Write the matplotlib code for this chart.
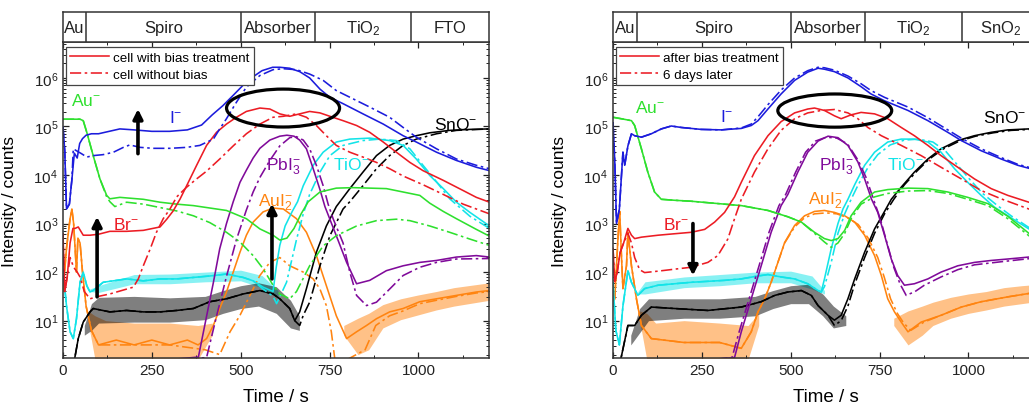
import numpy as np
import matplotlib
matplotlib.use("Agg")
import matplotlib.pyplot as plt
from matplotlib.patches import Ellipse
from matplotlib.lines import Line2D
from matplotlib.ticker import FixedLocator, MultipleLocator, NullFormatter, LogFormatterSciNotation

plt.rcParams['font.family'] = ['Liberation Sans', 'DejaVu Sans']
plt.rcParams['mathtext.fontset'] = 'custom'
plt.rcParams['mathtext.rm'] = 'Liberation Sans'
plt.rcParams['mathtext.it'] = 'Liberation Sans:italic'
plt.rcParams['mathtext.bf'] = 'Liberation Sans:bold'

# ---------------- layer headers ----------------
layers_left = ["Au", "Spiro", "Absorber", r"TiO$_2$", "FTO"]
bounds_left = [0, 65, 500, 710, 980, 1200]
layers_right = ["Au", "Spiro", "Absorber", r"TiO$_2$", r"SnO$_2$"]
bounds_right = [0, 67, 500, 710, 983, 1200]

legend_left = ["cell with bias treatment", "cell without bias"]
legend_right = ["after bias treatment", "6 days later"]

y_major = [1e1, 1e2, 1e3, 1e4, 1e5, 1e6]

# ---------------- LEFT PANEL DATA (time s, log10 counts) ----------------
L_I_solid_t = [0, 5, 10, 18, 25, 32, 40, 47, 55, 65, 80, 100, 130, 160, 200, 250, 300, 350, 390, 420, 450, 480, 520, 560, 590, 610, 638, 666, 694, 723, 751, 788, 844, 901, 957, 994, 1051, 1107, 1163, 1200]
L_I_solid_v = [5.0, 4.5, 3.3, 3.4, 3.9, 4.45, 4.35, 4.65, 4.75, 4.82, 4.85, 4.85, 4.9, 4.95, 4.93, 4.9, 4.9, 4.93, 5.03, 5.24, 5.43, 5.65, 5.95, 6.15, 6.22, 6.22, 6.2, 6.13, 6.0, 5.77, 5.6, 5.47, 5.26, 5.05, 4.81, 4.68, 4.47, 4.3, 4.16, 4.09]
L_I_dash_t = [0, 5, 10, 18, 25, 29, 38, 52, 67, 85, 113, 142, 170, 188, 217, 254, 301, 348, 385, 423, 441, 460, 488, 516, 554, 591, 620, 657, 694, 732, 769, 816, 863, 919, 957, 994, 1051, 1107, 1163, 1200]
L_I_dash_v = [5.0, 4.5, 3.3, 3.4, 3.9, 4.54, 4.5, 4.44, 4.37, 4.4, 4.42, 4.47, 4.57, 4.62, 4.57, 4.55, 4.55, 4.57, 4.61, 4.74, 4.95, 5.16, 5.5, 5.81, 6.05, 6.17, 6.19, 6.17, 6.08, 5.95, 5.74, 5.57, 5.4, 5.19, 4.98, 4.78, 4.54, 4.33, 4.2, 4.13]

L_Br_solid_t = [0, 5, 12, 20, 28, 34, 43, 57, 76, 100, 132, 179, 226, 273, 292, 310, 329, 348, 376, 404, 432, 460, 488, 516, 554, 582, 610, 638, 666, 694, 723, 751, 788, 826, 863, 901, 938, 976, 1013, 1070, 1126, 1163, 1200]
L_Br_solid_v = [2.8, 1.6, 1.9, 2.6, 2.9, 2.9, 2.93, 2.76, 2.76, 2.78, 2.84, 2.84, 2.86, 2.93, 3.09, 3.26, 3.5, 3.78, 4.2, 4.61, 4.88, 5.05, 5.19, 5.31, 5.38, 5.36, 5.26, 5.21, 5.26, 5.31, 5.28, 5.21, 5.12, 5.02, 4.88, 4.68, 4.47, 4.26, 4.09, 3.89, 3.68, 3.54, 3.44]
L_Br_dash_t = [0, 5, 12, 20, 30, 40, 48, 60, 76, 100, 132, 179, 198, 212, 226, 245, 263, 282, 301, 320, 348, 376, 404, 441, 479, 516, 554, 591, 620, 657, 685, 713, 741, 769, 807, 844, 882, 919, 957, 1013, 1070, 1126, 1200]
L_Br_dash_v = [2.8, 1.6, 1.9, 2.3, 2.1, 2.0, 1.9, 1.6, 1.45, 1.5, 1.55, 1.65, 1.69, 1.86, 2.13, 2.47, 2.82, 3.1, 3.3, 3.55, 3.75, 3.92, 4.08, 4.33, 4.6, 4.85, 5.05, 5.19, 5.21, 5.26, 5.19, 5.02, 4.81, 4.61, 4.47, 4.37, 4.26, 4.13, 3.98, 3.8, 3.6, 3.4, 3.2]

L_Au_solid_t = [0, 48, 57, 67, 85, 104, 123, 132, 160, 226, 273, 320, 367, 460, 516, 554, 591, 610, 630, 650, 670, 690, 723, 769, 816, 910, 1004, 1032, 1070, 1107, 1163, 1200]
L_Au_solid_v = [5.15, 5.15, 5.12, 4.88, 4.4, 3.92, 3.58, 3.51, 3.54, 3.5, 3.44, 3.4, 3.37, 3.27, 3.1, 2.89, 2.76, 2.66, 2.7, 2.9, 3.2, 3.45, 3.65, 3.73, 3.74, 3.72, 3.58, 3.42, 3.25, 3.1, 2.88, 2.74]
L_Au_dash_t = [0, 48, 57, 67, 85, 104, 123, 132, 146, 179, 226, 273, 320, 367, 413, 460, 498, 535, 563, 591, 610, 638, 657, 694, 732, 769, 826, 882, 938, 976, 1032, 1088, 1145, 1200]
L_Au_dash_v = [5.15, 5.15, 5.12, 4.88, 4.4, 3.92, 3.55, 3.45, 3.35, 3.44, 3.4, 3.33, 3.26, 3.16, 3.02, 2.82, 2.62, 2.34, 2.07, 1.73, 1.55, 1.45, 1.6, 2.13, 2.54, 2.75, 2.95, 3.06, 3.09, 3.06, 2.95, 2.82, 2.68, 2.55]

L_Pb_solid_t = [0, 381, 404, 423, 441, 460, 479, 498, 516, 535, 554, 582, 610, 630, 650, 666, 685, 704, 723, 737, 769, 798, 826, 863, 910, 957, 1004, 1051, 1107, 1163, 1200]
L_Pb_solid_v = [0.0, 0.25, 1.09, 1.78, 2.48, 3.0, 3.45, 3.85, 4.1, 4.35, 4.55, 4.72, 4.8, 4.82, 4.8, 4.72, 4.54, 4.13, 3.7, 3.35, 2.75, 2.2, 1.76, 1.83, 2.03, 2.13, 2.2, 2.24, 2.31, 2.34, 2.31]
L_Pb_dash_t = [0, 404, 432, 460, 488, 516, 535, 554, 582, 610, 638, 657, 676, 694, 713, 732, 746, 760, 788, 807, 826, 854, 882, 919, 957, 1004, 1051, 1107, 1200]
L_Pb_dash_v = [0.0, 0.24, 1.09, 1.91, 2.67, 3.28, 3.65, 3.95, 4.3, 4.6, 4.77, 4.79, 4.72, 4.54, 4.2, 3.78, 3.4, 3.1, 2.6, 2.0, 1.52, 1.31, 1.38, 1.65, 1.93, 2.1, 2.2, 2.27, 2.28]

L_Ti_solid_t = [0, 10, 20, 29, 38, 48, 57, 67, 76, 85, 113, 179, 226, 273, 320, 367, 413, 460, 507, 535, 563, 591, 600, 610, 625, 645, 660, 676, 704, 732, 769, 807, 863, 919, 957, 994, 1032, 1070, 1107, 1145, 1200]
L_Ti_solid_v = [2.04, 1.3, 0.77, 0.63, 1.04, 1.79, 2.0, 1.72, 1.59, 1.62, 1.79, 1.86, 1.82, 1.86, 1.86, 1.89, 1.92, 1.96, 1.89, 1.82, 1.69, 1.6, 2.1, 2.55, 2.95, 3.25, 3.45, 3.78, 4.2, 4.47, 4.68, 4.74, 4.76, 4.71, 4.61, 4.33, 3.99, 3.72, 3.44, 3.23, 2.95]
L_Ti_dash_t = [0, 10, 20, 29, 38, 48, 57, 67, 76, 85, 113, 179, 226, 273, 320, 367, 413, 460, 507, 535, 563, 591, 601, 629, 657, 676, 694, 723, 751, 788, 844, 891, 938, 976, 1013, 1051, 1088, 1145, 1200]
L_Ti_dash_v = [2.04, 1.3, 0.77, 0.63, 1.04, 1.79, 2.0, 1.72, 1.59, 1.62, 1.79, 1.86, 1.82, 1.86, 1.86, 1.89, 1.92, 1.96, 1.89, 1.82, 1.65, 1.5, 1.35, 1.79, 2.67, 3.2, 3.6, 4.06, 4.4, 4.61, 4.71, 4.74, 4.71, 4.54, 4.2, 3.86, 3.51, 3.15, 2.9]

L_Sn_solid_t = [0, 30, 43, 57, 76, 85, 132, 179, 226, 273, 320, 367, 413, 460, 507, 554, 591, 610, 638, 652, 666, 685, 713, 741, 769, 807, 844, 882, 919, 957, 994, 1032, 1088, 1145, 1200]
L_Sn_solid_v = [0.0, 0.1, 0.63, 0.97, 1.18, 1.25, 1.18, 1.21, 1.18, 1.18, 1.21, 1.25, 1.39, 1.45, 1.55, 1.62, 1.55, 1.45, 1.25, 1.0, 1.18, 1.66, 2.41, 2.95, 3.35, 3.72, 4.06, 4.4, 4.61, 4.74, 4.81, 4.87, 4.92, 4.94, 4.95]
L_Sn_dash_t = [0, 30, 43, 57, 76, 85, 132, 179, 226, 273, 320, 367, 413, 460, 507, 554, 591, 610, 638, 652, 666, 676, 694, 723, 751, 788, 807, 844, 882, 919, 957, 994, 1051, 1107, 1200]
L_Sn_dash_v = [0.0, 0.1, 0.63, 0.97, 1.18, 1.25, 1.18, 1.21, 1.18, 1.18, 1.21, 1.25, 1.39, 1.45, 1.55, 1.62, 1.55, 1.45, 1.25, 1.0, 0.9, 1.11, 1.38, 2.13, 2.75, 3.3, 3.45, 3.78, 4.13, 4.4, 4.61, 4.74, 4.85, 4.92, 4.95]

L_AuI_solid_t = [0, 10, 20, 25, 30, 38, 42, 48, 55, 65, 80, 100, 150, 200, 250, 300, 350, 380, 404, 423, 441, 460, 479, 498, 516, 535, 563, 591, 620, 657, 685, 713, 741, 769, 798, 826, 854, 882, 919, 957, 1004, 1051, 1107, 1163, 1200]
L_AuI_solid_v = [1.6, 2.5, 3.1, 3.3, 3.0, 2.0, 2.7, 2.6, 2.0, 1.3, 0.8, 0.5, 0.6, 0.5, 0.6, 0.5, 0.6, 0.5, 0.63, 0.9, 1.25, 1.59, 2.0, 2.41, 2.76, 3.03, 3.24, 3.32, 3.3, 3.1, 2.82, 2.34, 1.72, 1.1, 0.63, 0.77, 0.9, 1.04, 1.18, 1.25, 1.39, 1.45, 1.52, 1.59, 1.62]
L_AuI_dash_t = [0, 10, 20, 25, 30, 38, 42, 48, 55, 65, 80, 100, 200, 300, 400, 441, 470, 498, 526, 554, 582, 610, 638, 676, 704, 723, 741, 755, 765, 800, 850, 880, 919, 957, 1004, 1051, 1107, 1163, 1200]
L_AuI_dash_v = [1.6, 2.5, 3.1, 3.3, 3.0, 2.0, 2.7, 2.6, 2.0, 1.3, 0.8, 0.5, 0.5, 0.5, 0.4, 0.3, 0.77, 1.11, 1.52, 1.93, 2.2, 2.3, 2.13, 2.0, 1.86, 1.65, 1.31, 0.77, 0.2, 0.2, 0.4, 0.9, 1.1, 1.2, 1.35, 1.42, 1.5, 1.57, 1.6]

# noise envelopes (time, low log10, high log10)
L_Sn_band_t = [60, 80, 100, 200, 300, 400, 450, 500, 550, 600, 640, 665]
L_Sn_band_lo = [0.7, 0.8, 0.95, 0.97, 0.97, 1.02, 1.15, 1.25, 1.3, 1.15, 0.85, 0.8]
L_Sn_band_hi = [0.9, 1.35, 1.48, 1.5, 1.47, 1.5, 1.62, 1.72, 1.78, 1.7, 1.42, 1.1]
L_AuI_band_t = [70, 90, 120, 200, 300, 380, 420]
L_AuI_band_lo = [1.0, 0.2, 0.2, 0.2, 0.2, 0.2, 0.7]
L_AuI_band_hi = [1.2, 1.1, 1.0, 0.95, 0.95, 0.9, 0.95]
L_AuI_band2_t = [790, 830, 860, 900, 950, 1000, 1050, 1100, 1150, 1200]
L_AuI_band2_lo = [0.7, 0.3, 0.4, 0.85, 1.02, 1.12, 1.22, 1.3, 1.36, 1.42]
L_AuI_band2_hi = [0.9, 1.05, 1.15, 1.33, 1.45, 1.53, 1.6, 1.68, 1.73, 1.78]
L_Ti_band_t = [75, 100, 200, 300, 400, 500, 560, 605]
L_Ti_band_lo = [1.6, 1.58, 1.76, 1.76, 1.8, 1.82, 1.68, 1.5]
L_Ti_band_hi = [1.65, 1.72, 1.95, 1.96, 2.0, 2.04, 1.93, 1.62]

# ---------------- RIGHT PANEL DATA ----------------
R_I_solid_t = [0, 5, 10, 18, 28, 33, 42, 52, 61, 80, 108, 136, 164, 192, 248, 305, 361, 389, 408, 436, 473, 511, 548, 577, 595, 623, 661, 698, 726, 764, 830, 886, 942, 980, 1036, 1092, 1139, 1200]
R_I_solid_v = [5.09, 4.3, 3.0, 3.3, 4.47, 4.2, 4.6, 4.85, 4.81, 4.78, 4.85, 4.95, 5.01, 4.98, 4.94, 4.93, 4.96, 5.02, 5.12, 5.36, 5.67, 5.95, 6.12, 6.2, 6.18, 6.13, 6.0, 5.82, 5.67, 5.53, 5.33, 5.12, 4.88, 4.71, 4.5, 4.33, 4.2, 4.08]
R_I_dash_t = [0, 5, 10, 18, 28, 33, 42, 52, 61, 80, 108, 136, 164, 192, 248, 305, 361, 389, 408, 436, 473, 511, 548, 577, 595, 623, 661, 698, 726, 764, 830, 886, 942, 980, 1036, 1092, 1139, 1200]
R_I_dash_v = [5.09, 4.3, 3.0, 3.3, 4.47, 4.2, 4.6, 4.85, 4.81, 4.78, 4.85, 4.95, 5.01, 4.98, 4.94, 4.93, 4.97, 5.05, 5.2, 5.45, 5.75, 6.0, 6.15, 6.22, 6.21, 6.16, 6.04, 5.88, 5.74, 5.6, 5.4, 5.18, 4.93, 4.76, 4.54, 4.36, 4.22, 4.1]

R_Br_solid_t = [0, 5, 12, 20, 30, 42, 52, 61, 80, 127, 173, 220, 258, 286, 314, 342, 361, 398, 436, 473, 511, 548, 567, 595, 623, 642, 670, 698, 736, 773, 811, 848, 886, 923, 970, 1017, 1064, 1111, 1170, 1200]
R_Br_solid_v = [2.5, 1.8, 2.0, 2.4, 2.6, 2.9, 2.76, 2.69, 2.72, 2.76, 2.79, 2.82, 2.88, 3.03, 3.23, 3.55, 3.85, 4.4, 4.81, 5.1, 5.28, 5.36, 5.38, 5.33, 5.22, 5.16, 5.24, 5.29, 5.26, 5.16, 4.98, 4.81, 4.61, 4.4, 4.16, 3.92, 3.72, 3.58, 3.44, 3.38]
R_Br_dash_t = [0, 5, 12, 20, 30, 42, 52, 61, 75, 89, 127, 173, 220, 267, 295, 323, 342, 361, 398, 436, 473, 511, 548, 586, 623, 661, 689, 717, 755, 811, 867, 923, 980, 1036, 1092, 1170, 1200]
R_Br_dash_v = [2.5, 1.8, 2.0, 2.4, 2.6, 2.8, 2.6, 2.3, 2.05, 1.99, 2.02, 2.06, 2.1, 2.2, 2.34, 2.68, 3.1, 3.5, 4.06, 4.54, 4.92, 5.16, 5.28, 5.33, 5.35, 5.28, 5.16, 4.98, 4.81, 4.61, 4.4, 4.16, 3.92, 3.68, 3.51, 3.3, 3.22]

R_Au_solid_t = [0, 23, 52, 61, 80, 98, 117, 136, 173, 220, 267, 361, 436, 492, 530, 567, 595, 614, 633, 652, 670, 698, 736, 773, 830, 886, 942, 998, 1055, 1111, 1170, 1200]
R_Au_solid_v = [5.19, 5.16, 5.12, 5.02, 4.54, 4.06, 3.65, 3.5, 3.48, 3.46, 3.43, 3.37, 3.27, 3.14, 3.03, 2.82, 2.69, 2.65, 2.69, 2.86, 3.16, 3.44, 3.65, 3.7, 3.73, 3.72, 3.65, 3.54, 3.41, 3.15, 2.8, 2.7]
R_Au_dash_t = [0, 23, 52, 61, 80, 98, 117, 136, 173, 220, 267, 361, 436, 492, 530, 567, 595, 614, 633, 652, 670, 698, 736, 773, 830, 886, 942, 998, 1055, 1111, 1170, 1200]
R_Au_dash_v = [5.19, 5.16, 5.12, 5.02, 4.54, 4.06, 3.65, 3.5, 3.48, 3.46, 3.43, 3.37, 3.27, 3.14, 3.03, 2.8, 2.62, 2.51, 2.6, 2.8, 3.1, 3.4, 3.55, 3.62, 3.67, 3.68, 3.62, 3.5, 3.37, 3.1, 2.75, 2.65]

R_Pb_solid_t = [0, 342, 361, 389, 417, 445, 473, 492, 520, 548, 577, 605, 633, 661, 689, 708, 727, 745, 764, 783, 801, 820, 848, 886, 923, 970, 1017, 1064, 1111, 1170, 1200]
R_Pb_solid_v = [0.0, 0.24, 0.77, 1.45, 2.13, 2.82, 3.37, 3.6, 4.06, 4.47, 4.7, 4.8, 4.77, 4.61, 4.27, 3.92, 3.51, 3.23, 2.76, 2.27, 1.93, 1.73, 1.76, 1.86, 2.0, 2.13, 2.2, 2.24, 2.27, 2.31, 2.32]
R_Pb_dash_t = [0, 335, 355, 383, 411, 439, 467, 486, 514, 542, 570, 600, 630, 660, 690, 712, 733, 752, 771, 790, 808, 825, 850, 876, 923, 970, 1017, 1100, 1200]
R_Pb_dash_v = [0.0, 0.24, 0.77, 1.45, 2.13, 2.82, 3.37, 3.6, 4.06, 4.47, 4.7, 4.78, 4.76, 4.64, 4.3, 3.95, 3.5, 3.1, 2.6, 2.1, 1.75, 1.52, 1.6, 1.73, 1.9, 2.05, 2.15, 2.22, 2.3]

R_Ti_solid_t = [0, 8, 18, 28, 42, 52, 70, 89, 127, 173, 220, 267, 314, 361, 408, 436, 473, 511, 548, 577, 586, 595, 614, 633, 647, 661, 680, 708, 736, 773, 811, 848, 886, 923, 961, 998, 1036, 1073, 1111, 1170, 1200]
R_Ti_solid_v = [1.8, 0.8, 0.5, 1.3, 2.03, 1.79, 1.52, 1.66, 1.73, 1.76, 1.79, 1.81, 1.83, 1.86, 1.92, 1.95, 1.9, 1.86, 1.76, 1.62, 1.59, 1.86, 2.48, 3.0, 3.3, 3.5, 3.8, 4.2, 4.47, 4.68, 4.74, 4.74, 4.68, 4.47, 4.13, 3.85, 3.58, 3.34, 3.16, 2.89, 2.78]
R_Ti_dash_t = [0, 8, 18, 28, 42, 52, 70, 89, 127, 173, 220, 267, 314, 361, 408, 436, 473, 511, 548, 577, 586, 595, 614, 633, 652, 670, 690, 717, 745, 780, 820, 860, 900, 935, 970, 1005, 1040, 1080, 1120, 1170, 1200]
R_Ti_dash_v = [1.8, 0.8, 0.5, 1.3, 2.03, 1.79, 1.52, 1.66, 1.73, 1.76, 1.79, 1.81, 1.83, 1.86, 1.92, 1.95, 1.9, 1.86, 1.76, 1.62, 1.59, 1.7, 2.2, 2.8, 3.2, 3.5, 3.8, 4.15, 4.42, 4.62, 4.72, 4.74, 4.68, 4.5, 4.2, 3.9, 3.62, 3.38, 3.16, 2.92, 2.8]

R_Sn_solid_t = [0, 23, 42, 61, 80, 108, 173, 267, 361, 417, 455, 492, 530, 558, 577, 605, 623, 642, 661, 680, 708, 736, 764, 783, 811, 848, 886, 923, 970, 1017, 1064, 1111, 1170, 1200]
R_Sn_solid_v = [0.0, 0.24, 0.9, 0.9, 1.11, 1.28, 1.25, 1.21, 1.28, 1.39, 1.52, 1.59, 1.62, 1.52, 1.31, 1.11, 1.01, 1.11, 1.45, 1.86, 2.41, 2.89, 3.25, 3.5, 3.75, 4.06, 4.33, 4.54, 4.71, 4.81, 4.88, 4.93, 4.95, 4.96]
R_Sn_dash_t = [0, 23, 42, 61, 80, 108, 173, 267, 361, 417, 455, 492, 530, 558, 577, 605, 623, 642, 661, 680, 708, 736, 764, 790, 820, 855, 890, 930, 975, 1020, 1070, 1120, 1200]
R_Sn_dash_v = [0.0, 0.24, 0.9, 0.9, 1.11, 1.28, 1.25, 1.21, 1.28, 1.39, 1.52, 1.59, 1.62, 1.52, 1.31, 1.11, 0.9, 1.0, 1.3, 1.75, 2.3, 2.8, 3.2, 3.5, 3.8, 4.08, 4.33, 4.54, 4.7, 4.8, 4.87, 4.92, 4.95]

R_AuI_solid_t = [0, 5, 14, 19, 23, 28, 38, 42, 52, 66, 80, 108, 200, 300, 361, 389, 408, 427, 445, 464, 483, 511, 539, 567, 595, 623, 652, 680, 708, 736, 755, 773, 792, 811, 830, 867, 923, 980, 1036, 1111, 1170, 1200]
R_AuI_solid_v = [1.4, 1.45, 2.69, 3.25, 2.48, 1.66, 2.13, 2.82, 2.13, 1.45, 0.9, 0.63, 0.55, 0.55, 0.43, 0.77, 1.18, 1.45, 1.79, 2.2, 2.61, 2.96, 3.16, 3.25, 3.27, 3.23, 3.16, 3.03, 2.76, 2.34, 1.93, 1.45, 1.18, 0.97, 0.77, 0.97, 1.11, 1.28, 1.39, 1.49, 1.56, 1.58]
R_AuI_dash_t = [0, 5, 14, 19, 23, 28, 38, 42, 52, 66, 80, 108, 200, 300, 361, 389, 408, 427, 445, 464, 483, 511, 539, 567, 600, 630, 660, 690, 718, 745, 763, 781, 800, 818, 838, 875, 923, 980, 1036, 1111, 1170, 1200]
R_AuI_dash_v = [1.4, 1.45, 2.69, 3.25, 2.48, 1.66, 2.13, 2.82, 2.13, 1.45, 0.9, 0.63, 0.55, 0.55, 0.43, 0.77, 1.18, 1.45, 1.79, 2.2, 2.6, 2.93, 3.12, 3.2, 3.22, 3.2, 3.12, 2.98, 2.7, 2.3, 1.9, 1.45, 1.15, 0.95, 0.8, 0.97, 1.11, 1.28, 1.39, 1.49, 1.56, 1.58]

R_Sn_band_t = [50, 75, 100, 200, 300, 400, 450, 500, 550, 590, 620, 655]
R_Sn_band_lo = [0.5, 0.75, 1.0, 1.05, 1.05, 1.1, 1.25, 1.35, 1.35, 1.1, 0.85, 0.9]
R_Sn_band_hi = [0.7, 1.25, 1.45, 1.45, 1.45, 1.5, 1.62, 1.72, 1.75, 1.55, 1.3, 1.1]
R_AuI_band_t = [75, 95, 120, 200, 300, 380, 410]
R_AuI_band_lo = [1.0, 0.2, 0.2, 0.2, 0.2, 0.2, 0.9]
R_AuI_band_hi = [1.2, 1.15, 0.95, 1.0, 0.95, 0.9, 1.15]
R_AuI_band2_t = [790, 830, 870, 900, 950, 1000, 1050, 1100, 1150, 1200]
R_AuI_band2_lo = [0.9, 0.5, 0.7, 0.9, 1.05, 1.15, 1.22, 1.3, 1.35, 1.4]
R_AuI_band2_hi = [1.05, 1.2, 1.3, 1.38, 1.48, 1.55, 1.6, 1.68, 1.72, 1.75]
R_Ti_band_t = [70, 90, 200, 300, 400, 500, 560, 595]
R_Ti_band_lo = [1.55, 1.55, 1.68, 1.72, 1.78, 1.78, 1.65, 1.55]
R_Ti_band_hi = [1.6, 1.8, 1.9, 1.95, 2.0, 2.02, 1.92, 1.62]

# ---------------- colours / styles ----------------
C_I = '#1c1cdc'
C_Br = '#ec1c24'
C_Au = '#2ee02e'
C_Pb = '#800a9a'
C_Ti = '#12e4e8'
C_Sn = '#000000'
C_AuI = '#ff8410'
DASH = (0, (7, 2.2, 1.6, 2.2))
LW = 1.15

fig = plt.figure(figsize=(10.29, 4.10), dpi=100)

def setup_axes(x0):
    ax = fig.add_axes([x0, 0.1244, 0.4145, 0.7707])
    hx = fig.add_axes([x0, 0.8951, 0.4145, 0.0732])
    return ax, hx

def draw_panel(ax, hx, curves, bands, layers, bounds, legend_labels, labels, arrows, ellipse):
    for (t, lo, hi, c) in bands:
        ax.fill_between(t, 10.0 ** np.asarray(lo), 10.0 ** np.asarray(hi), color=c,
                        alpha=0.5, lw=0)
    for (t, v, c, ls) in curves:
        ax.plot(t, 10.0 ** np.asarray(v), color=c, lw=LW, ls=ls, solid_capstyle='butt')
    ax.set_yscale('log')
    ax.set_xlim(0, 1200)
    ax.set_ylim(1.7, 5.5e6)
    ax.xaxis.set_major_locator(MultipleLocator(250))
    ax.xaxis.set_minor_locator(MultipleLocator(125))
    ax.yaxis.set_major_locator(FixedLocator(y_major))
    ax.yaxis.set_major_formatter(LogFormatterSciNotation())
    minors = [m * d for d in [1, 10, 100, 1e3, 1e4, 1e5, 1e6] for m in range(2, 10)
              if 1.7 < m * d < 5.5e6]
    ax.yaxis.set_minor_locator(FixedLocator(minors))
    ax.yaxis.set_minor_formatter(NullFormatter())
    ax.tick_params(which='both', direction='in', top=True, right=True, labelsize=11, colors='#222222')
    ax.tick_params(which='major', length=4.5, width=0.9)
    ax.tick_params(which='minor', length=2.5, width=0.7)
    for s in ax.spines.values():
        s.set_color('#333333')
        s.set_linewidth(1.1)
    ax.set_xlabel('Time / s', fontsize=13.5)
    ax.set_ylabel('Intensity / counts', fontsize=12.5)
    ax.xaxis.set_label_coords(0.5, -0.095)
    ax.yaxis.set_label_coords(-0.108, 0.5)

    handles = [Line2D([], [], color=C_Br, lw=LW),
               Line2D([], [], color=C_Br, lw=LW, ls=DASH)]
    leg = ax.legend(handles, legend_labels, loc='upper left', bbox_to_anchor=(0.006, 0.985),
                    borderaxespad=0, fontsize=9.6, handlelength=2.9, handletextpad=0.3,
                    labelspacing=0.35, borderpad=0.35, fancybox=False, framealpha=1,
                    edgecolor='#444444')
    leg.get_frame().set_linewidth(0.9)

    for (txt, x, y, c) in labels:
        ax.text(x, y, txt, color=c, fontsize=12.5, ha='left', va='center')
    for (x, y0, y1) in arrows:
        ax.annotate('', xy=(x, y1), xytext=(x, y0),
                    arrowprops=dict(arrowstyle='-|>', lw=2.6, color='black',
                                    mutation_scale=14, shrinkA=0, shrinkB=0))
    cx, cy, w, h = ellipse
    ax.add_patch(Ellipse((cx, cy), w, h, transform=ax.transAxes, fill=False,
                         lw=2.3, ec='black', zorder=5))

    hx.set_xlim(0, 1200)
    hx.set_ylim(0, 1)
    hx.set_xticks([])
    hx.set_yticks([])
    for s in hx.spines.values():
        s.set_color('#333333')
        s.set_linewidth(1.1)
    for b in bounds[1:-1]:
        hx.axvline(b, color='#333333', lw=1.1)
    for name, a, b in zip(layers, bounds[:-1], bounds[1:]):
        hx.text((a + b) / 2, 0.47, name, ha='center', va='center', fontsize=12, color='#222222')

# left panel
axL, hxL = setup_axes(0.0612)
curvesL = [
    (L_AuI_solid_t, L_AuI_solid_v, C_AuI, '-'), (L_AuI_dash_t, L_AuI_dash_v, C_AuI, DASH),
    (L_Sn_solid_t, L_Sn_solid_v, C_Sn, '-'), (L_Sn_dash_t, L_Sn_dash_v, C_Sn, DASH),
    (L_Ti_solid_t, L_Ti_solid_v, C_Ti, '-'), (L_Ti_dash_t, L_Ti_dash_v, C_Ti, DASH),
    (L_Pb_solid_t, L_Pb_solid_v, C_Pb, '-'), (L_Pb_dash_t, L_Pb_dash_v, C_Pb, DASH),
    (L_Au_solid_t, L_Au_solid_v, C_Au, '-'), (L_Au_dash_t, L_Au_dash_v, C_Au, DASH),
    (L_Br_solid_t, L_Br_solid_v, C_Br, '-'), (L_Br_dash_t, L_Br_dash_v, C_Br, DASH),
    (L_I_solid_t, L_I_solid_v, C_I, '-'), (L_I_dash_t, L_I_dash_v, C_I, DASH),
]
bandsL = [(L_AuI_band_t, L_AuI_band_lo, L_AuI_band_hi, C_AuI),
          (L_AuI_band2_t, L_AuI_band2_lo, L_AuI_band2_hi, C_AuI),
          (L_Ti_band_t, L_Ti_band_lo, L_Ti_band_hi, C_Ti),
          (L_Sn_band_t, L_Sn_band_lo, L_Sn_band_hi, C_Sn)]
labelsL = [(r'Au$^{-}$', 22, 10**5.55, C_Au), (r'I$^{-}$', 298, 10**5.2, C_I),
           (r'Br$^{-}$', 140, 10**3.0, C_Br), (r'PbI$_3^{-}$', 572, 10**4.2, C_Pb),
           (r'TiO$^{-}$', 760, 10**4.22, C_Ti), (r'AuI$_2^{-}$', 548, 10**3.45, C_AuI),
           (r'SnO$^{-}$', 1045, 10**5.05, C_Sn)]
arrowsL = [(211, 10**4.44, 10**5.36), (96, 10**1.49, 10**3.14), (588, 10**1.86, 10**3.41)]
draw_panel(axL, hxL, curvesL, bandsL, layers_left, bounds_left, legend_left, labelsL, arrowsL,
           (0.516, 0.791, 0.265, 0.12))

# right panel
axR, hxR = setup_axes(0.5957)
curvesR = [
    (R_AuI_solid_t, R_AuI_solid_v, C_AuI, '-'), (R_AuI_dash_t, R_AuI_dash_v, C_AuI, DASH),
    (R_Sn_solid_t, R_Sn_solid_v, C_Sn, '-'), (R_Sn_dash_t, R_Sn_dash_v, C_Sn, DASH),
    (R_Ti_solid_t, R_Ti_solid_v, C_Ti, '-'), (R_Ti_dash_t, R_Ti_dash_v, C_Ti, DASH),
    (R_Pb_solid_t, R_Pb_solid_v, C_Pb, '-'), (R_Pb_dash_t, R_Pb_dash_v, C_Pb, DASH),
    (R_Au_solid_t, R_Au_solid_v, C_Au, '-'), (R_Au_dash_t, R_Au_dash_v, C_Au, DASH),
    (R_Br_solid_t, R_Br_solid_v, C_Br, '-'), (R_Br_dash_t, R_Br_dash_v, C_Br, DASH),
    (R_I_solid_t, R_I_solid_v, C_I, '-'), (R_I_dash_t, R_I_dash_v, C_I, DASH),
]
bandsR = [(R_AuI_band_t, R_AuI_band_lo, R_AuI_band_hi, C_AuI),
          (R_AuI_band2_t, R_AuI_band2_lo, R_AuI_band2_hi, C_AuI),
          (R_Ti_band_t, R_Ti_band_lo, R_Ti_band_hi, C_Ti),
          (R_Sn_band_t, R_Sn_band_lo, R_Sn_band_hi, C_Sn)]
labelsR = [(r'Au$^{-}$', 62, 10**5.4, C_Au), (r'I$^{-}$', 300, 10**5.22, C_I),
           (r'Br$^{-}$', 140, 10**3.0, C_Br), (r'PbI$_3^{-}$', 580, 10**4.2, C_Pb),
           (r'TiO$^{-}$', 770, 10**4.22, C_Ti), (r'AuI$_2^{-}$', 548, 10**3.5, C_AuI),
           (r'SnO$^{-}$', 1040, 10**5.2, C_Sn)]
arrowsR = [(225, 10**3.0, 10**1.93)]
draw_panel(axR, hxR, curvesR, bandsR, layers_right, bounds_right, legend_right, labelsR, arrowsR,
           (0.52, 0.783, 0.267, 0.105))

fig.savefig('out.png', dpi=100)
